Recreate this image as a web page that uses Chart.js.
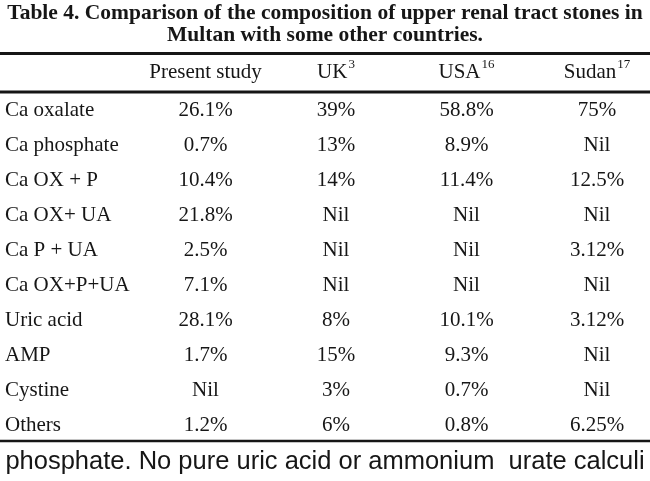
<!DOCTYPE html>
<html lang="en">
<head>
  <meta charset="UTF-8" />
  <title>Table 4. Composition of upper renal tract stones</title>
  <script src="https://cdn.jsdelivr.net/npm/chart.js"></script>
  <style>
    html, body { margin: 0; padding: 0; background: #ffffff; }
    #wrap { width: 650px; height: 481px; }
  </style>
</head>
<body>
  <div id="wrap"><canvas id="stones" width="650" height="481"></canvas></div>
  <script>
    // table content
    const stoneTypes = ['Ca oxalate', 'Ca phosphate', 'Ca OX + P', 'Ca OX+ UA', 'Ca P + UA',
                        'Ca OX+P+UA', 'Uric acid', 'AMP', 'Cystine', 'Others'];
    const sources = ['Present study', 'UK', 'USA', 'Sudan'];
    const sourceRefs = ['', '3', '16', '17'];
    // percentages, null = "Nil"
    const presentStudy = [26.1, 0.7, 10.4, 21.8, 2.5, 7.1, 28.1, 1.7, null, 1.2];
    const uk = [39, 13, 14, null, null, null, 8, 15, 3, 6];
    const usa = [58.8, 8.9, 11.4, null, null, null, 10.1, 9.3, 0.7, 0.8];
    const sudan = [75, null, 12.5, null, 3.12, null, 3.12, null, null, 6.25];
    const series = [presentStudy, uk, usa, sudan];

    const serif = '"Liberation Serif", "Times New Roman", serif';
    const ink = '#161616';

    function cellText(v) {
      return v === null ? 'Nil' : v + '%';
    }

    const tablePlugin = {
      id: 'tableText',
      beforeDatasetsDraw(chart, args, opts) {
        const { ctx, chartArea, scales: { y } } = chart;
        ctx.save();
        ctx.strokeStyle = ink;
        opts.rules.forEach(r => {
          const py = y.getPixelForValue(r.at);
          ctx.lineWidth = r.width;
          ctx.beginPath();
          ctx.moveTo(chartArea.left, py);
          ctx.lineTo(chartArea.right, py);
          ctx.stroke();
        });
        ctx.restore();
      },
      afterDatasetsDraw(chart, args, opts) {
        const { ctx, chartArea, scales: { x, y } } = chart;
        const big = opts.size + 'px ' + serif;
        const small = opts.supSize + 'px ' + serif;
        ctx.save();
        ctx.fillStyle = ink;
        ctx.textBaseline = 'middle';

        // header row with reference superscripts
        const hy = y.getPixelForValue(opts.headerAt);
        ctx.textAlign = 'left';
        sources.forEach((s, i) => {
          const cx = x.getPixelForValue(i + 1);
          ctx.font = big;
          const w = ctx.measureText(s).width;
          ctx.font = small;
          const sw = sourceRefs[i] ? ctx.measureText(sourceRefs[i]).width + 1 : 0;
          const left = cx - (w + sw) / 2;
          ctx.font = big;
          ctx.fillText(s, left, hy);
          if (sourceRefs[i]) {
            ctx.font = small;
            ctx.fillText(sourceRefs[i], left + w + 1, hy - opts.supRaise);
          }
        });

        // row labels
        ctx.font = big;
        stoneTypes.forEach((t, r) => {
          ctx.fillText(t, chartArea.left + opts.labelInset, y.getPixelForValue(r + 1));
        });

        // cells, placed at each point of the datasets
        ctx.textAlign = 'center';
        chart.data.datasets.forEach((ds, i) => {
          chart.getDatasetMeta(i).data.forEach((pt, r) => {
            ctx.fillText(cellText(series[i][r]), pt.x, pt.y);
          });
        });
        ctx.restore();
      }
    };

    const datasets = series.map((col, i) => ({
      label: sources[i],
      data: col.map((v, r) => ({ x: i + 1, y: r + 1 })),
      pointRadius: 0,
      showLine: false
    }));

    new Chart(document.getElementById('stones'), {
      type: 'scatter',
      data: { datasets: datasets },
      options: {
        responsive: false,
        animation: false,
        events: [],
        layout: { padding: 0 },
        scales: {
          x: { type: 'linear', display: false, min: -0.5747, max: 4.406 },
          y: { type: 'linear', display: false, reverse: true, min: -0.6571, max: 10.5714 }
        },
        plugins: {
          legend: { display: false },
          tooltip: { enabled: false },
          title: {
            display: true,
            text: ['Table 4. Comparison of the composition of upper renal tract stones in',
                   'Multan with some other countries.'],
            color: ink,
            font: { family: serif, size: 21.5, weight: 'bold', lineHeight: '22px' },
            padding: { top: 2, bottom: 6 }
          },
          subtitle: {
            display: true,
            position: 'bottom',
            text: 'phosphate. No pure uric acid or ammonium  urate calculi',
            color: ink,
            font: { family: '"Liberation Sans", Arial, sans-serif', size: 25.5, weight: 'normal', lineHeight: '26px' },
            padding: { top: 4, bottom: 6 }
          },
          tableText: {
            size: 21,
            supSize: 13,
            supRaise: 7,
            labelInset: 5,
            headerAt: -0.086,
            rules: [
              { at: -0.614, width: 3 },
              { at: 0.486, width: 3 },
              { at: 10.457, width: 2.5 }
            ]
          }
        }
      },
      plugins: [tablePlugin]
    });
  </script>
</body>
</html>
